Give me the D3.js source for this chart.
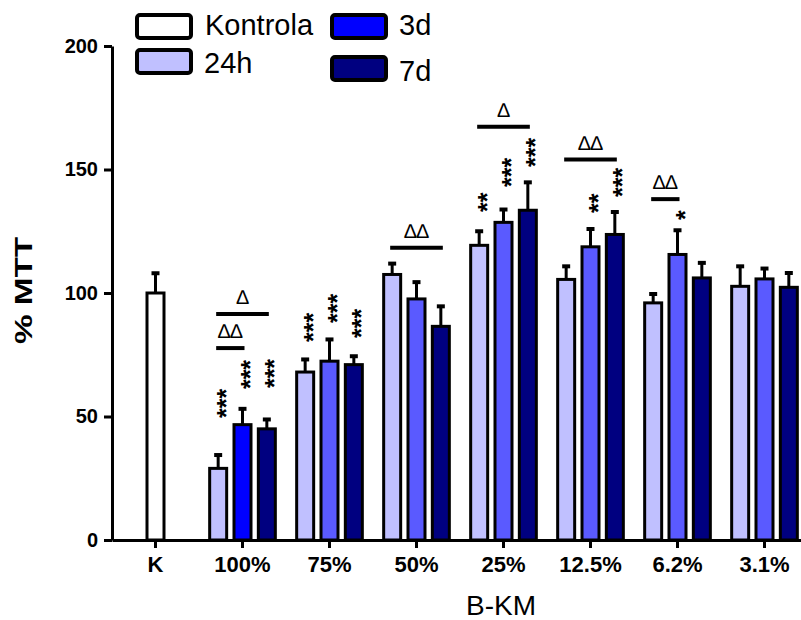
<!DOCTYPE html>
<html>
<head>
<meta charset="utf-8">
<script src="https://cdn.jsdelivr.net/npm/d3@7/dist/d3.min.js"></script>
<style>
  html, body { margin: 0; padding: 0; background: #fff; }
  svg { display: block; font-family: "Liberation Sans", Arial, sans-serif; }
</style>
</head>
<body>
<svg id="chart" width="801" height="620"></svg>
<script>
// ---------- DATA ----------
const categories = ['K', '100%', '75%', '50%', '25%', '12.5%', '6.2%', '3.1%'];
const treatedCategories = ['100%', '75%', '50%', '25%', '12.5%', '6.2%', '3.1%'];
const seriesNames = ['24h', '3d', '7d'];
const yTicks = [0, 50, 100, 150, 200];

const controlValue = 100;
const controlErr = 8;

const values24h = [29, 68, 107.5, 119.3, 105.5, 96, 102.7];
const values3d  = [46.7, 72.4, 97.6, 128.6, 118.7, 115.6, 105.7];
const values7d  = [45, 71, 86.5, 133.5, 123.7, 106.1, 102.3];

const err24h = [5.4, 5.1, 4.4, 5.7, 5.3, 3.6, 8.1];
const err3d  = [6.4, 8.8, 6.8, 5.2, 7.2, 9.8, 4.2];
const err7d  = [3.8, 3.4, 8.1, 11.3, 9.1, 6.1, 5.8];

// significance stars vs control, with the level (in % MTT units) where the label starts
const stars24h = ['***', '***', '', '**', '', '', ''];
const stars3d  = ['***', '***', '', '***', '**', '*', ''];
const stars7d  = ['***', '***', '', '***', '***', '', ''];
const starLevel24h = [49.4, 80.2, 0, 132.8, 0, 0, 0];
const starLevel3d  = [61.1, 87.9, 0, 142.9, 132.4, 129.6, 0];
const starLevel7d  = [61.5, 81.8, 0, 151, 138.9, 0, 0];

// between-time comparisons
const sigCategory = ['100%', '100%', '50%', '25%', '12.5%', '6.2%'];
const sigFrom     = ['24h', '24h', '24h', '24h', '24h', '24h'];
const sigTo       = ['7d', '3d', '7d', '7d', '7d', '3d'];
const sigLevel    = [91.5, 77.7, 118.3, 167.3, 154, 138];
const sigLabel    = ['\u2206', '\u2206\u2206', '\u2206\u2206', '\u2206', '\u2206\u2206', '\u2206\u2206'];

const legendNames = ['Kontrola', '24h', '3d', '7d'];

// ---------- STYLE ----------
const colControl = '#ffffff';
const col24h = '#c0c0ff';
const col3d = '#5a5aff';
const col3dStrong = '#0000ff';
const col7d = '#000080';
const seriesColor = { '24h': col24h, '3d': col3d, '7d': col7d };

const svg = d3.select('#chart');

const x = d3.scaleBand().domain(categories).range([112, 808]).padding(0);
const xs = d3.scaleBand().domain(seriesNames).range([-36.5, 36.5]).padding(0);
const y = d3.scaleLinear().domain([0, 200]).range([540, 46]);

const barW = 17;
const cx = (cat) => x(cat) + x.bandwidth() / 2;
const sx = (cat, s) => cx(cat) + xs(s) + xs.bandwidth() / 2;

const seriesValues = { '24h': values24h, '3d': values3d, '7d': values7d };
const seriesErr = { '24h': err24h, '3d': err3d, '7d': err7d };
const seriesStars = { '24h': stars24h, '3d': stars3d, '7d': stars7d };
const seriesStarLevel = { '24h': starLevel24h, '3d': starLevel3d, '7d': starLevel7d };

const bars = [{ cx: cx('K'), v: controlValue, e: controlErr, fill: colControl, stars: '', sl: 0 }];
treatedCategories.forEach((c, i) => {
  seriesNames.forEach(s => {
    let fill = seriesColor[s];
    if (s === '3d' && c === '100%') fill = col3dStrong;
    bars.push({ cx: sx(c, s), v: seriesValues[s][i], e: seriesErr[s][i], fill,
                stars: seriesStars[s][i], sl: seriesStarLevel[s][i] });
  });
});

// bars
svg.append('g').selectAll('rect').data(bars).join('rect')
  .attr('x', d => d.cx - barW / 2)
  .attr('y', d => y(d.v))
  .attr('width', barW)
  .attr('height', d => y(0) - y(d.v))
  .attr('fill', d => d.fill)
  .attr('stroke', '#000')
  .attr('stroke-width', 3);

// error bars
const eg = svg.append('g');
eg.selectAll('line.v').data(bars).join('line')
  .attr('x1', d => d.cx).attr('x2', d => d.cx)
  .attr('y1', d => y(d.v)).attr('y2', d => y(d.v + d.e))
  .attr('stroke', '#000').attr('stroke-width', 3);
eg.selectAll('line.c').data(bars).join('line')
  .attr('x1', d => d.cx - 4).attr('x2', d => d.cx + 4)
  .attr('y1', d => y(d.v + d.e)).attr('y2', d => y(d.v + d.e))
  .attr('stroke', '#000').attr('stroke-width', 4);

// stars (rotated)
svg.append('g').selectAll('text').data(bars.filter(d => d.stars)).join('text')
  .attr('transform', d => `translate(${d.cx + 2},${y(d.sl)}) rotate(-90)`)
  .attr('dy', '0.58em')
  .attr('font-size', 25)
  .attr('font-weight', 'bold')
  .attr('fill', '#000')
  .text(d => d.stars);

// significance lines
const sigs = sigCategory.map((c, i) => ({
  x1: sx(c, sigFrom[i]) - 2, x2: sx(c, sigTo[i]) + 2, yv: sigLevel[i], label: sigLabel[i]
}));
const sg = svg.append('g');
sg.selectAll('line').data(sigs).join('line')
  .attr('x1', d => d.x1).attr('x2', d => d.x2)
  .attr('y1', d => y(d.yv)).attr('y2', d => y(d.yv))
  .attr('stroke', '#000').attr('stroke-width', 4);
sg.selectAll('text').data(sigs).join('text')
  .attr('x', d => (d.x1 + d.x2) / 2)
  .attr('y', d => y(d.yv) - 10)
  .attr('text-anchor', 'middle')
  .attr('font-size', 20)
  .attr('fill', '#000')
  .text(d => d.label);

// axes
const yAxis = svg.append('g').attr('transform', 'translate(112,0)')
  .call(d3.axisLeft(y).tickValues(yTicks).tickSize(8).tickSizeOuter(0).tickPadding(6));
yAxis.selectAll('path,line').attr('stroke', '#000').attr('stroke-width', 3);
yAxis.selectAll('text').attr('font-size', 20).attr('font-weight', 'bold')
  .attr('font-family', '"Liberation Sans", Arial, sans-serif').attr('fill', '#000');

const xAxis = svg.append('g').attr('transform', 'translate(0,540)')
  .call(d3.axisBottom(x).tickSize(8).tickSizeOuter(0).tickPadding(8));
xAxis.selectAll('path,line').attr('stroke', '#000').attr('stroke-width', 3);
xAxis.selectAll('text').attr('font-size', 22).attr('font-weight', 'bold')
  .attr('font-family', '"Liberation Sans", Arial, sans-serif').attr('fill', '#000');

// axis titles
svg.append('text')
  .attr('transform', 'translate(31.5,290.5) rotate(-90)')
  .attr('text-anchor', 'middle')
  .attr('font-size', 23).attr('font-weight', 'bold')
  .attr('textLength', 107).attr('lengthAdjust', 'spacingAndGlyphs')
  .text('% MTT');
svg.append('text')
  .attr('x', 466).attr('y', 615)
  .attr('font-size', 28)
  .text('B-KM');

// legend
const legendColors = [colControl, col24h, col3dStrong, col7d];
const legendBoxX = [135, 135, 330, 330];
const legendBoxY = [13, 48, 13, 55];
const legendTextX = [205, 204, 399, 399];
const legendTextY = [35, 72.7, 35, 80.7];
const lg = svg.append('g');
legendNames.forEach((n, i) => {
  lg.append('rect')
    .attr('x', legendBoxX[i] + 2).attr('y', legendBoxY[i] + 2)
    .attr('width', 54).attr('height', 23).attr('rx', 3)
    .attr('fill', legendColors[i]).attr('stroke', '#000').attr('stroke-width', 4);
  lg.append('text')
    .attr('x', legendTextX[i]).attr('y', legendTextY[i])
    .attr('font-size', 29)
    .text(n);
});
</script>
</body>
</html>
